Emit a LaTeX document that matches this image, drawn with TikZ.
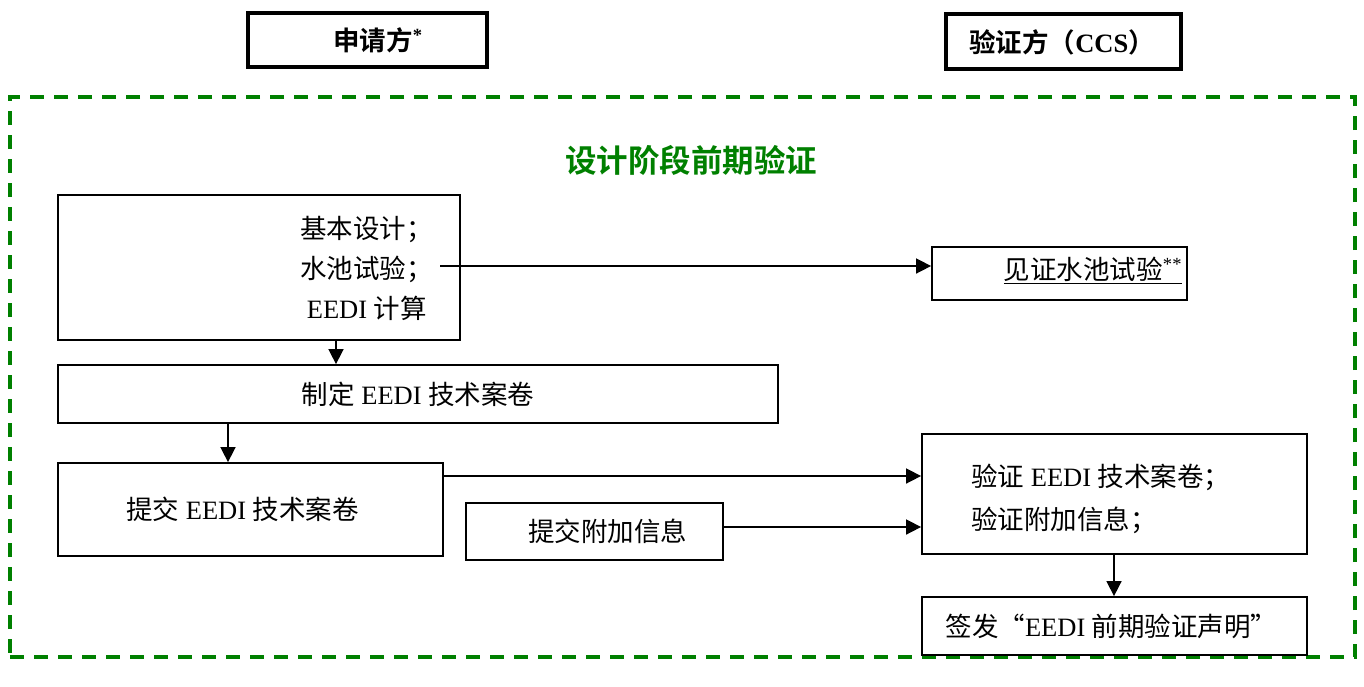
\documentclass[tikz,border=0pt]{standalone}
\usepackage{fontspec}
\setmainfont{Liberation Serif}
\newfontfamily\cjk{Noto Sans CJK SC}
\newfontfamily\cjkbold{Noto Sans CJK SC Bold}
\newcommand\zh[1]{{\cjk #1}}
\usetikzlibrary{arrows.meta}
\definecolor{dgreen}{RGB}{0,128,0}
\begin{document}
\begin{tikzpicture}[x=1pt,y=-1pt,
  box/.style={draw,line width=1.8pt,inner sep=0pt},
  headbox/.style={draw,line width=4.5pt,inner sep=0pt},
  txt/.style={font=\fontsize{26.5}{30}\selectfont,inner sep=0pt},
  arr/.style={line width=1.6pt,-{Triangle[length=15pt,width=15pt]}}]
\useasboundingbox (0,0) rectangle (1364,686);
% headers
\node[headbox,minimum width=239pt,minimum height=54pt] (h1) at (367.5,40) {};
\node[txt] (h1t) at (378,40) {\cjkbold 申请方\textsuperscript{\rmfamily\bfseries *}};
\node[headbox,minimum width=235pt,minimum height=55pt] (h2) at (1063.5,41.5) {};
\node[txt] (h2t) at (1062,42) {\cjkbold 验证方（{\rmfamily\bfseries CCS}）};
% green frame
\node[draw=dgreen,line width=3.5pt,dash pattern=on 14pt off 10pt,minimum width=1345pt,minimum height=560pt,inner sep=0pt] (frame) at (682.5,377) {};
\node[txt,text=dgreen,font=\fontsize{31.5}{34}\selectfont] (title) at (691,160) {\cjkbold 设计阶段前期验证};
% left column
\node[box,minimum width=402pt,minimum height=145pt] (b1) at (259,267.5) {};
\node[txt,anchor=west,align=left,font=\fontsize{26.5}{40}\selectfont] (b1t) at (300,268) {\zh{基本设计；}\\\zh{水池试验；}\\\ EEDI \zh{计算}};
\node[box,minimum width=720pt,minimum height=58pt,txt] (b2) at (418,394) {\zh{制定} EEDI \zh{技术案卷}};
\node[box,minimum width=385pt,minimum height=93pt,txt] (b3) at (250.5,509.5) {\zh{提交} EEDI \zh{技术案卷}\hspace*{16pt}};
\node[box,minimum width=257pt,minimum height=57pt,txt] (b4) at (594.5,531.5) {\hspace*{26pt}\zh{提交附加信息}};
% right column
\node[box,minimum width=255pt,minimum height=53pt] (w) at (1059.5,273.5) {};
\node[txt] (wt) at (1093,270) {\underline{\zh{见证水池试验}\textsuperscript{**}}};
\node[box,minimum width=385pt,minimum height=120pt] (v) at (1114.5,494) {};
\node[txt,anchor=west,align=left,font=\fontsize{26.5}{43}\selectfont] (vt) at (971,499) {\zh{验证} EEDI \zh{技术案卷；}\\\zh{验证附加信息；}};
\node[box,minimum width=385pt,minimum height=58pt,txt] (s) at (1114.5,626) {\zh{签发“}EEDI \zh{前期验证声明”}\hspace*{6pt}};
% connectors
\coordinate (ws) at (440,266);
\coordinate (x1) at (336,0);
\coordinate (x2) at (228,0);
\coordinate (y3) at (0,476);
\coordinate (y4) at (0,527);
\coordinate (x5) at (1114,0);
\draw[arr] (ws) -- (w.west |- ws);
\draw[arr] (b1.south -| x1) -- (b2.north -| x1);
\draw[arr] (b2.south -| x2) -- (b3.north -| x2);
\draw[arr] (b3.east |- y3) -- (v.west |- y3);
\draw[arr] (b4.east |- y4) -- (v.west |- y4);
\draw[arr] (v.south -| x5) -- (s.north -| x5);
\end{tikzpicture}
\end{document}
